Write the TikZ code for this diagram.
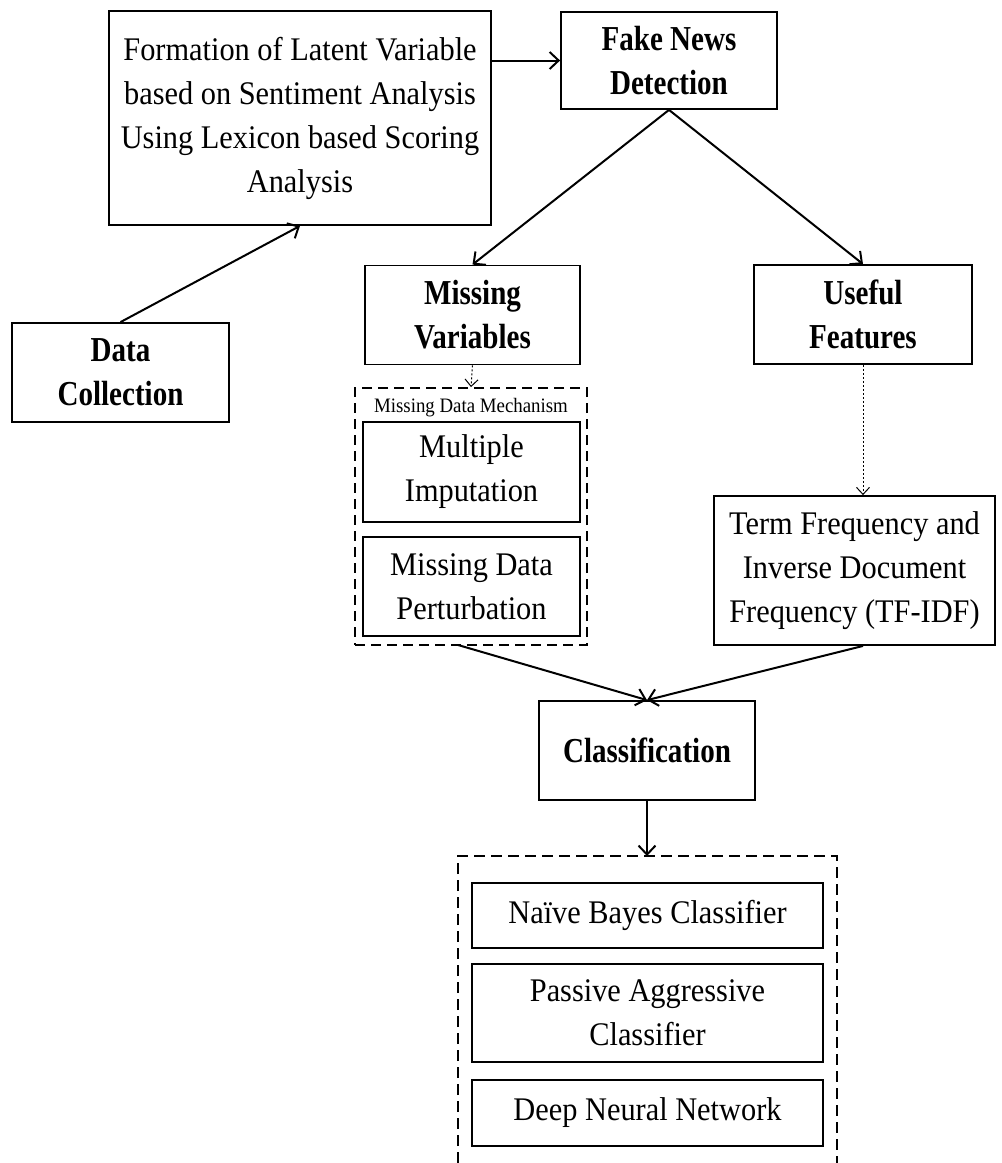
\documentclass[tikz,border=0pt]{standalone}
\usepackage{fontspec}
\setmainfont{Liberation Serif}[FakeStretch=0.92]
\newfontfamily\boldcond{Liberation Serif}[FakeStretch=0.83]
\usetikzlibrary{arrows.meta}
\begin{document}
\begin{tikzpicture}[x=1pt,y=-1pt,
  box/.style={draw,line width=1.8pt,inner sep=0pt,align=center,
    font=\fontsize{33}{44}\selectfont},
  bbox/.style={box,font=\boldcond\bfseries\fontsize{35}{44}\selectfont},
  dbox/.style={draw,line width=1.8pt,dash pattern=on 10pt off 6pt,inner sep=0pt},
  arr/.style={line width=2pt,-{Straight Barb[length=9pt,width=17pt,line width=2pt]}},
  darr/.style={line width=1pt,dash pattern=on 2pt off 2pt,
    -{Straight Barb[length=7pt,width=13pt,line width=1pt]}}]
\useasboundingbox (0,0) rectangle (1002,1163);

\node[box,minimum width=382pt,minimum height=214pt] (form) at (300,118)
  {Formation of Latent Variable\\based on Sentiment Analysis\\Using Lexicon based Scoring\\Analysis};
\node[bbox,minimum width=216pt,minimum height=97pt] (fake) at (669,60.5)
  {Fake News\\Detection};
\node[bbox,minimum width=217pt,minimum height=99pt] (data) at (120.5,372.5)
  {Data\\Collection};
\node[bbox,minimum width=215pt,minimum height=99pt] (missvar) at (472.5,315)
  {Missing\\Variables};
\node[bbox,minimum width=218pt,minimum height=99pt] (useful) at (863,314.5)
  {Useful\\Features};

\node[dbox,minimum width=232pt,minimum height=257pt] (mech) at (471,516.5) {};
\node[font=\fontsize{20.5}{24}\selectfont,inner sep=0pt] (mechlabel) at (471,408)
  {Missing Data Mechanism};
\node[box,minimum width=217pt,minimum height=100pt] (multi) at (471.5,472)
  {Multiple\\Imputation};
\node[box,minimum width=217pt,minimum height=99pt] (pert) at (471.5,586.5)
  {Missing Data\\Perturbation};

\node[box,minimum width=281pt,minimum height=149pt] (tfidf) at (854.5,570.5)
  {Term Frequency and\\Inverse Document\\Frequency (TF-IDF)};

\node[bbox,minimum width=216pt,minimum height=99pt] (class) at (647,750.5)
  {Classification};

\coordinate (clstop) at (647,856);
\draw[line width=1.8pt,dash pattern=on 11pt off 6pt]
  (458,1163) -- (458,856) -- (837,856) -- (837,1163);

\node[box,minimum width=351pt,minimum height=65pt] (nb) at (647.5,915.5)
  {Naïve Bayes Classifier};
\node[box,minimum width=351pt,minimum height=98pt] (pa) at (647.5,1013)
  {Passive Aggressive\\Classifier};
\node[box,minimum width=351pt,minimum height=66pt] (dnn) at (647.5,1113)
  {Deep Neural Network};

% connectors
\draw[arr] (data.north) -- (form.south);
\draw[arr] (fake.west -| form.east) -- (fake.west);
\draw[arr] (fake.south) -- (missvar.north);
\draw[arr] (fake.south) -- (useful.north);
\draw[darr] (missvar.south) -- (mech.north);
\draw[darr] (useful.south) -- (useful.south |- tfidf.north);
\draw[arr] (458,645) coordinate (mechout) -- (class.north);
\draw[arr] (useful.south |- tfidf.south) -- (class.north);
\draw[arr] (class.south) -- (clstop);
\end{tikzpicture}
\end{document}
